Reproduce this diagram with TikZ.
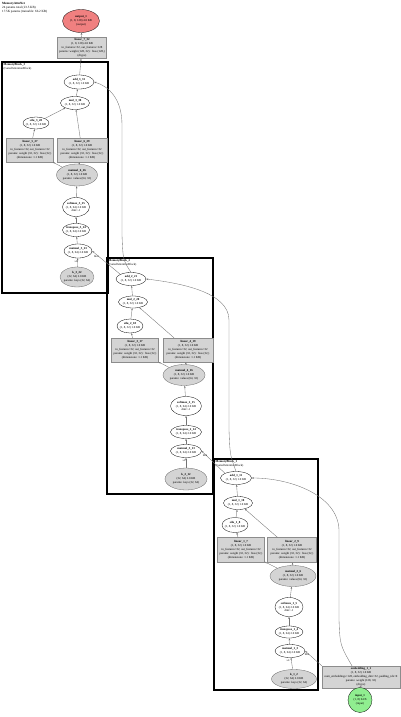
\documentclass[tikz,border=0pt]{standalone}
\usepackage{fontspec}
\setmainfont{Liberation Serif}
\usetikzlibrary{shapes.geometric,arrows.meta}
\newcommand\zl[1]{\makebox[0pt]{#1}}
\newcommand\nb[1]{\makebox[0pt]{\bfseries #1}}
\definecolor{outred}{HTML}{F08080}
\definecolor{ingreen}{HTML}{90EE90}
\begin{document}
\begin{tikzpicture}[x=1pt,y=-1pt,
  every node/.style={font=\fontsize{3}{3.9}\selectfont, align=center, inner sep=0pt},
  fn/.style={ellipse, draw=black, line width=0.3pt, fill=white},
  tn/.style={ellipse, draw=black!60, line width=0.3pt, fill=black!17},
  mn/.style={rectangle, draw=black!45, line width=0.3pt, fill=black!17},
  edge/.style={draw=black!55, line width=0.35pt, -{Stealth[length=2.2pt,width=1.6pt]}},
  cl/.style={draw=black, line width=1.1pt},
  sz/.style 2 args={minimum width=#1pt, minimum height=#2pt},
  elab/.style={font=\fontsize{2.6}{3}\selectfont}
]
\useasboundingbox (0,0) rectangle (400,717);

% title
\node[anchor=north west, align=left, font=\fontsize{3.2}{3.9}\selectfont] (title) at (2,2)
  {\textbf{MemoryAttnNet}\\24 params total (23.5 KB)\\17.5K params (trainable: 66.2 KB)};

% clusters
\draw[cl] (2,62) rectangle (108,293);
\node[anchor=north west, align=left] (c1lab) at (3.5,63) {\textbf{MemoryBlock\_3}\\(GatedAttentionBlock)};
\draw[cl] (107,258) rectangle (213,494);
\node[anchor=north west, align=left] (c2lab) at (108.5,259) {\textbf{MemoryBlock\_2}\\(GatedAttentionBlock)};
\draw[cl] (214,459) rectangle (318,690);
\node[anchor=north west, align=left] (c3lab) at (215.5,460) {\textbf{MemoryBlock\_1}\\(GatedAttentionBlock)};

% top
\node[fn, fill=outred, sz={37}{23}] (out) at (81,21) {\nb{output\_1}\\\zl{(1, 8, 128) 4.0 KB}\\\zl{(output)}};
\node[mn, sz={49}{21}] (lin7) at (82,48) {\nb{linear\_7\_32}\\\zl{(1, 8, 128) 4.0 KB}\\\zl{in\_features=32, out\_features=128}\\\zl{params: weight (128, 32) · bias (128,)}\\\zl{(dtype)}};

% block 3 (top-left)
\node[fn, sz={30}{14}] (add1) at (79,82) {\nb{add\_3\_31}\\\zl{(1, 8, 32) 1.0 KB}};
\node[fn, sz={29}{13}] (mul1) at (75,103) {\nb{mul\_3\_30}\\\zl{(1, 8, 32) 1.0 KB}};
\node[fn, sz={26}{12}] (silu1) at (36,123) {\nb{silu\_3\_28}\\\zl{(1, 8, 32) 1.0 KB}};
\node[mn, sz={47}{24}] (lin1a) at (30,150) {\nb{linear\_5\_27}\\\zl{(1, 8, 32) 1.0 KB}\\\zl{in\_features=32, out\_features=32}\\\zl{params: weight (32, 32) · bias (32,)}\\\zl{(dimensions: 1.1 KB)}};
\node[mn, sz={50}{24}] (lin1b) at (82,150) {\nb{linear\_6\_29}\\\zl{(1, 8, 32) 1.0 KB}\\\zl{in\_features=32, out\_features=32}\\\zl{params: weight (32, 32) · bias (32,)}\\\zl{(dimensions: 1.1 KB)}};
\node[tn, sz={41}{22}] (mm1b) at (77,175) {\nb{matmul\_6\_26}\\\zl{(1, 8, 32) 1.0 KB}\\\zl{params: values (64, 32)}};
\node[fn, sz={27}{19}] (sm1) at (76,207) {\nb{softmax\_3\_25}\\\zl{(1, 8, 64) 2.0 KB}\\\zl{dim=-1}};
\node[fn, sz={27}{13}] (vw1) at (76,230) {\nb{transpose\_3\_24}\\\zl{(1, 8, 64) 2.0 KB}};
\node[fn, sz={28}{14}] (mm1a) at (78,251) {\nb{matmul\_5\_23}\\\zl{(1, 8, 64) 2.0 KB}};
\node[tn, sz={34}{20}] (k1) at (77,277) {\nb{k\_3\_22}\\\zl{(32, 64) 2.0 KB}\\\zl{params: keys (32, 64)}};

% block 2 (middle)
\node[fn, sz={30}{13}] (add2) at (131,279) {\nb{add\_2\_21}\\\zl{(1, 8, 32) 1.0 KB}};
\node[fn, sz={29}{12}] (mul2) at (133,302) {\nb{mul\_2\_20}\\\zl{(1, 8, 32) 1.0 KB}};
\node[fn, sz={26}{14}] (silu2) at (130,326) {\nb{silu\_2\_18}\\\zl{(1, 8, 32) 1.0 KB}};
\node[mn, sz={47}{24}] (lin2a) at (135,350) {\nb{linear\_3\_17}\\\zl{(1, 8, 32) 1.0 KB}\\\zl{in\_features=32, out\_features=32}\\\zl{params: weight (32, 32) · bias (32,)}\\\zl{(dimensions: 1.1 KB)}};
\node[mn, sz={50}{24}] (lin2b) at (188,350) {\nb{linear\_4\_19}\\\zl{(1, 8, 32) 1.0 KB}\\\zl{in\_features=32, out\_features=32}\\\zl{params: weight (32, 32) · bias (32,)}\\\zl{(dimensions: 1.1 KB)}};
\node[tn, sz={42}{21}] (mm2b) at (184,375) {\nb{matmul\_4\_16}\\\zl{(1, 8, 32) 1.0 KB}\\\zl{params: values (64, 32)}};
\node[fn, sz={31}{19}] (sm2) at (186,406) {\nb{softmax\_2\_15}\\\zl{(1, 8, 64) 2.0 KB}\\\zl{dim=-1}};
\node[fn, sz={31}{13}] (vw2) at (186,432) {\nb{transpose\_2\_14}\\\zl{(1, 8, 64) 2.0 KB}};
\node[fn, sz={31}{13}] (mm2a) at (186,451) {\nb{matmul\_3\_13}\\\zl{(1, 8, 64) 2.0 KB}};
\node[tn, sz={42}{22}] (k2) at (186,479) {\nb{k\_2\_12}\\\zl{(32, 64) 2.0 KB}\\\zl{params: keys (32, 64)}};

% block 1 (bottom-right)
\node[fn, sz={31}{13}] (add3) at (236,478) {\nb{add\_1\_11}\\\zl{(1, 8, 32) 1.0 KB}};
\node[fn, sz={29}{13}] (mul3) at (238,503) {\nb{mul\_1\_10}\\\zl{(1, 8, 32) 1.0 KB}};
\node[fn, sz={26}{15}] (silu3) at (235,525) {\nb{silu\_1\_8}\\\zl{(1, 8, 32) 1.0 KB}};
\node[mn, sz={47}{25}] (lin3a) at (241,550) {\nb{linear\_1\_7}\\\zl{(1, 8, 32) 1.0 KB}\\\zl{in\_features=32, out\_features=32}\\\zl{params: weight (32, 32) · bias (32,)}\\\zl{(dimensions: 1.1 KB)}};
\node[mn, sz={49}{25}] (lin3b) at (292,550) {\nb{linear\_2\_9}\\\zl{(1, 8, 32) 1.0 KB}\\\zl{in\_features=32, out\_features=32}\\\zl{params: weight (32, 32) · bias (32,)}\\\zl{(dimensions: 1.1 KB)}};
\node[tn, sz={46}{21}] (mm3b) at (293,576) {\nb{matmul\_2\_6}\\\zl{(1, 8, 32) 1.0 KB}\\\zl{params: values (64, 32)}};
\node[fn, sz={28}{19}] (sm3) at (289,607) {\nb{softmax\_1\_5}\\\zl{(1, 8, 64) 2.0 KB}\\\zl{dim=-1}};
\node[fn, sz={28}{12}] (vw3) at (289,632) {\nb{transpose\_1\_4}\\\zl{(1, 8, 64) 2.0 KB}};
\node[fn, sz={30}{13}] (mm3a) at (290,651) {\nb{matmul\_1\_3}\\\zl{(1, 8, 64) 2.0 KB}};
\node[tn, sz={45}{19}] (k3) at (294,679) {\nb{k\_1\_2}\\\zl{(32, 64) 2.0 KB}\\\zl{params: keys (32, 64)}};

% input
\node[mn, sz={78}{22}] (emb) at (361,677) {\nb{embedding\_1\_1}\\\zl{(1, 8, 32) 1.0 KB}\\\zl{num\_embeddings=128, embedding\_dim=32, padding\_idx=0}\\\zl{params: weight (128, 32)}\\\zl{(dtype)}};
\node[fn, fill=ingreen, sz={24}{25}] (inp) at (360,700) {\nb{input\_1}\\\zl{(1, 8) 64 B}\\\zl{(input)}};

% internal edges
\foreach \i in {1,2,3}{
  \draw[edge] (k\i) -- (mm\i a);
  \draw[edge] (mm\i a) -- (vw\i);
  \draw[edge] (vw\i) -- (sm\i);
  \draw[edge] (sm\i) -- (mm\i b);
  \draw[edge] (mm\i b) -- (lin\i a);
  \draw[edge] (mm\i b) -- (lin\i b);
  \draw[edge] (lin\i a) -- (silu\i);
  \draw[edge] (silu\i) -- (mul\i);
  \draw[edge] (lin\i b) -- (mul\i);
  \draw[edge] (mul\i) -- (add\i);
}
\node[elab] (x1) at ([xshift=-2pt,yshift=-3pt]mm1a.south) {x0};
\node[elab] (x2) at ([xshift=-2pt,yshift=-3pt]mm2a.south) {x0};
\node[elab] (x3) at ([xshift=-2pt,yshift=-3pt]mm3a.south) {x0};

% cross edges
\draw[edge] (inp) -- (emb);
\draw[edge] (emb.north west) -- (mm3a.east) node[elab, pos=0.88, below=0.6pt] (l3) {Mul};
\draw[edge] ([xshift=-9pt]emb.north) .. controls (340,645) .. (339,620) -- (339,530)
   .. controls (338,495) and (290,478) .. (add3.east);
\draw[edge] (add3.north west) -- (mm2a.east) node[elab, pos=0.85, below=0.6pt] (l2) {Mul};
\draw[edge] (add3.north) .. controls (230,455) .. (229,430) -- (229,320)
   .. controls (229,292) and (180,283) .. (add2.east);
\draw[edge] (add2.north west) -- (mm1a.east) node[elab, pos=0.85, below=0.6pt] (l1) {Mul};
\draw[edge] (add2.north) .. controls (123,260) .. (122,235) -- (122,125)
   .. controls (122,98) and (108,86) .. (add1.east);
\draw[edge] (add1) -- (lin7);
\draw[edge] (lin7) -- (out);
\end{tikzpicture}
\end{document}
